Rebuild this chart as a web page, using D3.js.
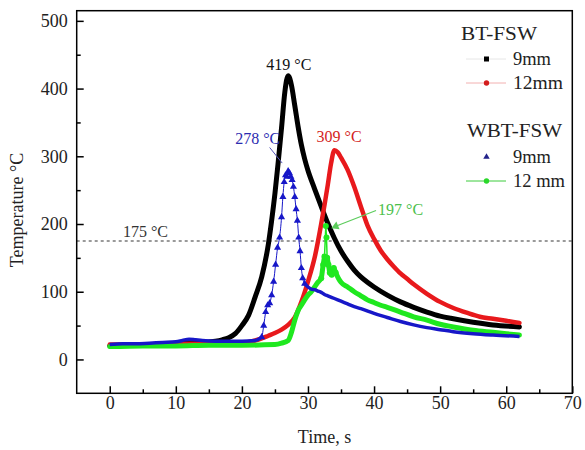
<!DOCTYPE html>
<html><head><meta charset="utf-8">
<script src="https://cdn.jsdelivr.net/npm/d3@7"></script>
<style>
body{margin:0;background:#fff;}
svg{display:block;font-family:"Liberation Serif","Times New Roman",serif;}
</style></head>
<body><svg id="c" width="585" height="450"></svg>
<script>
// ---- data ----
const xTicks = [0,10,20,30,40,50,60,70];
const xMinor = [5,15,25,35,45,55,65];
const yTicks = [0,100,200,300,400,500];
const yMinor = [50,150,250,350,450];

const btTime9 = [0,2,4,6,8,10,12,14,16,17,18,19,20,21,22,23,24,24.5,25,25.5,26,26.5,27,27.5,28,28.5,29,29.5,30,31,32,33,34,35,36,37,38,39,40,42,44,46,48,50,52,55,58,62];
const btTemp9 = [20,21,21,22,22,23,24,25,27,29,32,38,50,65,92,122,170,205,245,292,342,395,419,405,375,344,317,296,279,252,226,201,179,160,145,132,122,114,107,95,85,77,70,64,60,55,51,48];

const btTime12 = [0,5,10,15,20,21,22,23,24,25,26,27,28,29,30,31,32,33,33.5,34,34.5,35,36,37,38,39,40,41,42,43,44,45,46,48,50,52,54,56,58,60,62];
const btTemp12 = [22,22,23,23,24,26,28,31,35,39,44,51,62,85,115,150,200,258,290,309,306,298,280,255,226,198,178,161,148,137,127,119,111,97,85,76,69,63,60,57,54];

const wbtTime9 = [0,2,4,6,8,10,11,12,13,14,16,18,20,22,23,23.3,23.6,23.9,24.2,24.5,24.8,25.1,25.4,25.7,26,26.2,26.4,26.6,26.8,27,27.2,27.4,27.6,27.8,28,28.2,28.4,28.6,28.8,29,29.2,29.5,30,30.5,31,31.5,32,32.5,33,34,35,36,37,38,40,42,44,46,48,50,52,55,58,62];
const wbtTemp9 = [22,23,23,24,25,26,28,30,29,28,27,27,27,28,33,50,70,80,83,95,115,140,165,180,210,240,262,272,270,278,275,270,265,255,240,222,205,180,160,135,120,112,107,104,103,101,99,96,94,90,86,82,78,75,68,62,56,51,47,44,41,38,36,34];

const wbtTime12 = [0,5,10,15,20,25,26,27,27.5,28,28.5,29,29.5,30,30.5,31,31.5,32,32.3,32.5,32.7,32.8,32.9,33.1,33.3,33.6,33.9,34.2,34.6,35,36,37,38,39,40,41,42,44,46,48,50,52,55,58,62];
const wbtTemp12 = [19,20,20,21,21,22,24,28,40,58,72,80,88,95,100,107,114,120,140,152,197,180,150,140,128,125,135,128,120,114,107,100,94,88,84,80,77,70,63,58,52,48,43,40,36];

const threshold = 175;
const peakLabels = ["419 °C","278 °C","309 °C","197 °C"];
const legendGroups = ["BT-FSW","WBT-FSW"];
const legendItems = ["9mm","12mm","9mm","12 mm"];

// ---- layout ----
const W=585,H=450, L=76.7, R=572.3, T=10.7, B=393.3;
const svg = d3.select("#c");
const x = d3.scaleLinear().domain([-5,70]).range([L,R]);
const y = d3.scaleLinear().domain([-50,515]).range([B,T]);
const FS = 18;

const zip = (ts,vs)=>ts.map((t,i)=>({t,v:vs[i]}));
const bt9 = zip(btTime9,btTemp9), bt12 = zip(btTime12,btTemp12);
const w9 = zip(wbtTime9,wbtTemp9), w12 = zip(wbtTime12,wbtTemp12);

svg.append("defs").append("clipPath").attr("id","clip")
  .append("rect").attr("x",L).attr("y",T).attr("width",R-L).attr("height",B-T);

const line = d3.line().curve(d3.curveMonotoneX).x(d=>x(d.t)).y(d=>y(d.v));
const lineLin = d3.line().x(d=>x(d.t)).y(d=>y(d.v));

// threshold dashed line
svg.append("line").attr("x1",L).attr("x2",R).attr("y1",y(threshold)).attr("y2",y(threshold))
  .attr("stroke","#7a7a7a").attr("stroke-width",1.4).attr("stroke-dasharray","3,3");

const g = svg.append("g").attr("clip-path","url(#clip)");

// black BT 9mm
g.append("path").datum(bt9).attr("d",line).attr("fill","none").attr("stroke","#000")
  .attr("stroke-width",5).attr("stroke-linejoin","round").attr("stroke-linecap","round");
// red BT 12mm
g.append("path").datum(bt12).attr("d",line).attr("fill","none").attr("stroke","#e8191c")
  .attr("stroke-width",4.5).attr("stroke-linejoin","round").attr("stroke-linecap","round");

// green WBT 12mm
const green="#1fe81f";
const spike = d=>d.t>=32.5 && d.t<=32.9;
g.append("path").datum(w12).attr("d",d3.line().curve(d3.curveMonotoneX).defined(d=>!spike(d)||d.t===32.5||d.t===32.9).x(d=>x(d.t)).y(d=>y(d.v)))
  .attr("fill","none").attr("stroke",green)
  .attr("stroke-width",5).attr("stroke-linejoin","round").attr("stroke-linecap","round");
g.append("path").datum(w12.filter(d=>d.t>=32.3&&d.t<=33.1)).attr("d",lineLin).attr("fill","none").attr("stroke",green).attr("stroke-width",1.5);
g.selectAll(".gdot").data(w12.filter(d=>d.t>=32 && d.t<=34.5)).join("circle")
  .attr("cx",d=>x(d.t)).attr("cy",d=>y(d.v)).attr("r",3).attr("fill",green);

// blue WBT 9mm
const blue="#1717c8";
const peak = d=>d.t>=23 && d.t<=29.5;
g.append("path").datum(w9).attr("d",line).attr("fill","none").attr("stroke",blue)
  .attr("stroke-width",1);
g.append("path").datum(w9).attr("d",d3.line().curve(d3.curveMonotoneX).defined(d=>!peak(d) || d.t===23 || d.t===29.5).x(d=>x(d.t)).y(d=>y(d.v)))
  .attr("fill","none").attr("stroke",blue).attr("stroke-width",3.5).attr("stroke-linejoin","round");
const tri = d3.symbol().type(d3.symbolTriangle).size(22);
g.selectAll(".tri").data(w9.filter(peak)).join("path")
  .attr("d",tri).attr("transform",d=>`translate(${x(d.t)},${y(d.v)})`).attr("fill",blue);

// frame
svg.append("rect").attr("x",L).attr("y",T).attr("width",R-L).attr("height",B-T)
  .attr("fill","none").attr("stroke","#000").attr("stroke-width",1.5);

// axes
const xa = svg.append("g").attr("transform",`translate(0,${B})`)
  .call(d3.axisBottom(x).tickValues(xTicks).tickSize(-7).tickPadding(3).tickFormat(d3.format("d")));
const xm = svg.append("g").attr("transform",`translate(0,${B})`)
  .call(d3.axisBottom(x).tickValues(xMinor).tickSize(-4).tickFormat(""));
const ya = svg.append("g").attr("transform",`translate(${L},0)`)
  .call(d3.axisLeft(y).tickValues(yTicks).tickSize(-7).tickPadding(9).tickFormat(d3.format("d")));
const ym = svg.append("g").attr("transform",`translate(${L},0)`)
  .call(d3.axisLeft(y).tickValues(yMinor).tickSize(-4).tickFormat(""));
[xa,xm,ya,ym].forEach(a=>{
  a.select(".domain").remove();
  a.selectAll("line").attr("stroke","#000").attr("stroke-width",1.5);
  a.selectAll("text").attr("font-size",FS).attr("font-family","Liberation Serif").attr("fill","#222");
});

// axis titles
svg.append("text").attr("x",(L+R)/2).attr("y",443).attr("text-anchor","middle")
  .attr("font-size",FS).attr("fill","#222").text("Time, s");
svg.append("text").attr("transform",`translate(23,${(T+B)/2+8}) rotate(-90)`).attr("text-anchor","middle")
  .attr("font-size",FS).attr("fill","#222").text("Temperature °C");

// annotations
svg.append("text").attr("x",x(2)).attr("y",y(threshold)-4).attr("font-size",16).attr("fill","#333").text(threshold+" °C");
svg.append("text").attr("x",x(27.1)).attr("y",y(427)).attr("text-anchor","middle").attr("font-size",16).attr("fill","#111").text(peakLabels[0]);
svg.append("text").attr("x",x(25.8)).attr("y",y(318)).attr("text-anchor","end").attr("font-size",16).attr("fill","#2b2bb0").text(peakLabels[1]);
svg.append("line").attr("x1",x(24.2)).attr("y1",y(313)).attr("x2",x(26.1)).attr("y2",y(290))
  .attr("stroke","#5555bb").attr("stroke-width",1);
svg.append("text").attr("x",x(31.3)).attr("y",y(321)).attr("font-size",16).attr("fill","#d41d1d").text(peakLabels[2]);
svg.append("text").attr("x",x(40.6)).attr("y",y(213)).attr("font-size",16).attr("fill","#4cc04c").text(peakLabels[3]);
svg.append("line").attr("x1",x(40.3)).attr("y1",y(220)).attr("x2",x(34.3)).attr("y2",y(197))
  .attr("stroke","#5ccc5c").attr("stroke-width",1.2);
svg.append("path").attr("d",d3.symbol().type(d3.symbolTriangle).size(30))
  .attr("transform",`translate(${x(34.2)},${y(196.5)}) rotate(-112)`).attr("fill","#5ccc5c");

// legend
const lg = svg.append("g");
lg.append("text").attr("x",461).attr("y",40).attr("font-size",FS+1).attr("fill","#222")
  .attr("textLength",76).attr("lengthAdjust","spacingAndGlyphs").text(legendGroups[0]);
lg.append("text").attr("x",467).attr("y",137).attr("font-size",FS+1).attr("fill","#222")
  .attr("textLength",95).attr("lengthAdjust","spacingAndGlyphs").text(legendGroups[1]);
const rows = [
  {yy:59, txt:legendItems[0], c:"#000", line:"#e6e6e6", mk:"sq", w:38},
  {yy:83, txt:legendItems[1], c:"#d41d1d", line:"#f2b0b0", mk:"ci", w:50},
  {yy:157, txt:legendItems[2], c:"#22228a", line:null, mk:"tri", w:38},
  {yy:181, txt:legendItems[3], c:"#2ad82a", line:"#3ccc3c", mk:"ci", w:52}
];
rows.forEach(r=>{
  if(r.line) lg.append("line").attr("x1",466).attr("x2",506).attr("y1",r.yy).attr("y2",r.yy).attr("stroke",r.line).attr("stroke-width",1);
  if(r.mk==="sq") lg.append("rect").attr("x",484).attr("y",r.yy-2.5).attr("width",5).attr("height",5).attr("fill",r.c);
  if(r.mk==="ci") lg.append("circle").attr("cx",486.5).attr("cy",r.yy).attr("r",2.7).attr("fill",r.c);
  if(r.mk==="tri") lg.append("path").attr("d",d3.symbol().type(d3.symbolTriangle).size(18)).attr("transform",`translate(486.5,${r.yy})`).attr("fill",r.c);
  lg.append("text").attr("x",513).attr("y",r.yy+6).attr("font-size",FS+1).attr("fill","#222")
    .attr("textLength",r.w).attr("lengthAdjust","spacingAndGlyphs").text(r.txt);
});
</script></body></html>
